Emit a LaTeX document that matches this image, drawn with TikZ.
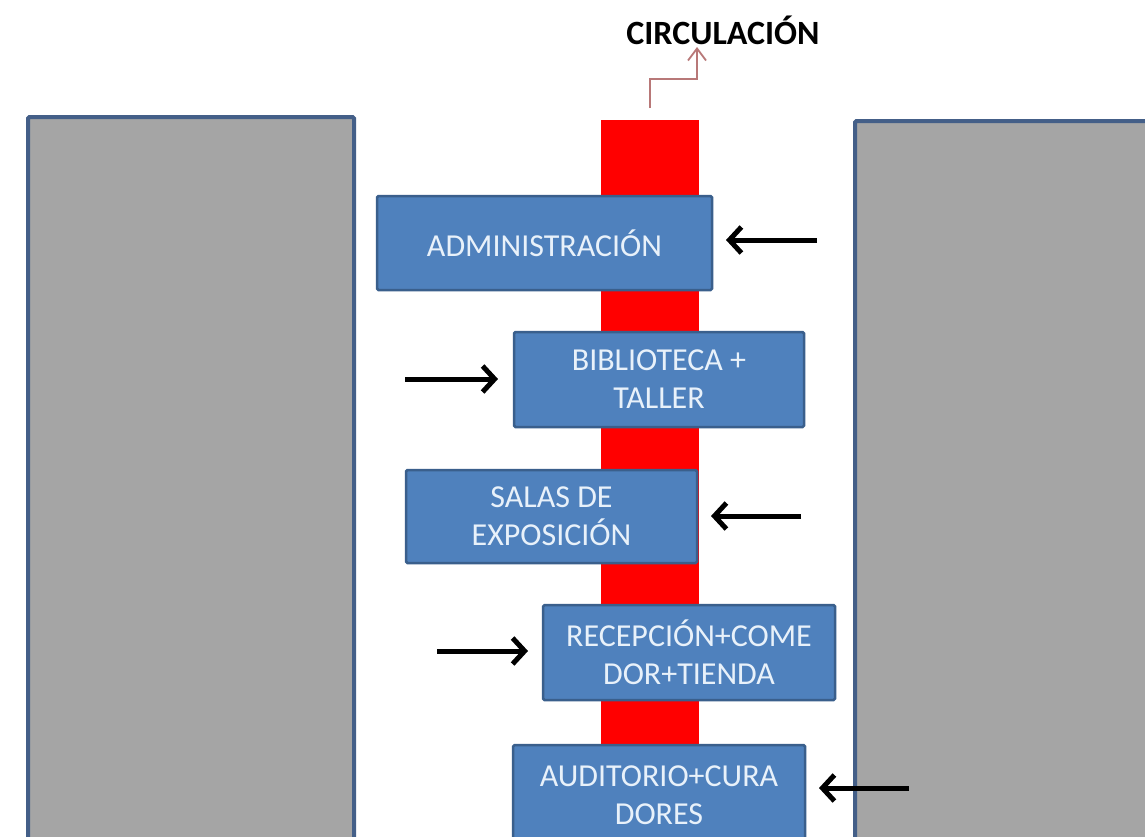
\documentclass[tikz,border=0pt]{standalone}
\usepackage{fontspec}
\setmainfont{Carlito}
\usetikzlibrary{arrows.meta}
\definecolor{boxfill}{HTML}{4F81BD}
\definecolor{boxline}{HTML}{3A5F8C}
\definecolor{grayfill}{HTML}{A5A5A5}
\definecolor{grayline}{HTML}{445F88}
\definecolor{boxtext}{HTML}{E8F1FA}
\definecolor{circline}{HTML}{B87878}
\tikzset{
  block/.style={draw=boxline, line width=2.5pt, fill=boxfill, rounded corners=1.5pt,
    text=boxtext, align=center, inner sep=0pt,
    font=\fontsize{32}{38}\selectfont},
  wall/.style={draw=grayline, line width=4pt, fill=grayfill, rounded corners=1.5pt},
  entry/.style={draw=black, line width=5pt, -{Straight Barb[length=12pt,width=26pt,line width=5pt]}},
  circarrow/.style={draw=circline, line width=1.8pt, -{Straight Barb[length=12pt,width=18pt,line width=1.8pt]}}
}
\begin{document}
\begin{tikzpicture}[x=1pt,y=-1pt]
\useasboundingbox (0,0) rectangle (1145,836);
\clip (0,0) rectangle (1145,836);
\fill[white] (0,0) rectangle (1145,836);
% walls
\draw[wall] (28,117) rectangle (354,860);
\draw[wall] (855,121) rectangle (1170,860);
% circulation bar
\fill[red] (601,120) rectangle (699,860);
\coordinate (barTop) at (650,108);
\coordinate (bend) at (697,79);
\node[font=\bfseries\fontsize{34}{40}\selectfont, inner sep=0pt] (circ) at (723,30) {CIRCULACIÓN};
\coordinate (circTip) at (697,47);
\draw[circarrow] (barTop) |- (bend) -- (circTip);
% blocks
\node[block, minimum width=335pt, minimum height=94pt] (adm) at (544.5,243) {ADMINISTRACIÓN};
\node[block, minimum width=290pt, minimum height=95pt] (bib) at (659,379.5) {BIBLIOTECA +\\TALLER};
\node[block, minimum width=291pt, minimum height=93pt] (sal) at (551.5,516.5) {SALAS DE\\EXPOSICIÓN};
\node[block, minimum width=292pt, minimum height=95pt] (rec) at (689,652.5) {RECEPCIÓN+COME\\DOR+TIENDA};
\node[block, minimum width=292pt, minimum height=100pt] (aud) at (659,795) {AUDITORIO+CURA\\DORES};
% entry arrows
\coordinate (a1s) at (817,240); \coordinate (a1e) at (726,240);
\coordinate (a2s) at (405,379); \coordinate (a2e) at (498,379);
\coordinate (a3s) at (801,516); \coordinate (a3e) at (711,516);
\coordinate (a4s) at (437,651); \coordinate (a4e) at (528,651);
\coordinate (a5s) at (909,788); \coordinate (a5e) at (819,788);
\draw[entry] (a1s) -- (a1e);
\draw[entry] (a2s) -- (a2e);
\draw[entry] (a3s) -- (a3e);
\draw[entry] (a4s) -- (a4e);
\draw[entry] (a5s) -- (a5e);
\end{tikzpicture}
\end{document}
